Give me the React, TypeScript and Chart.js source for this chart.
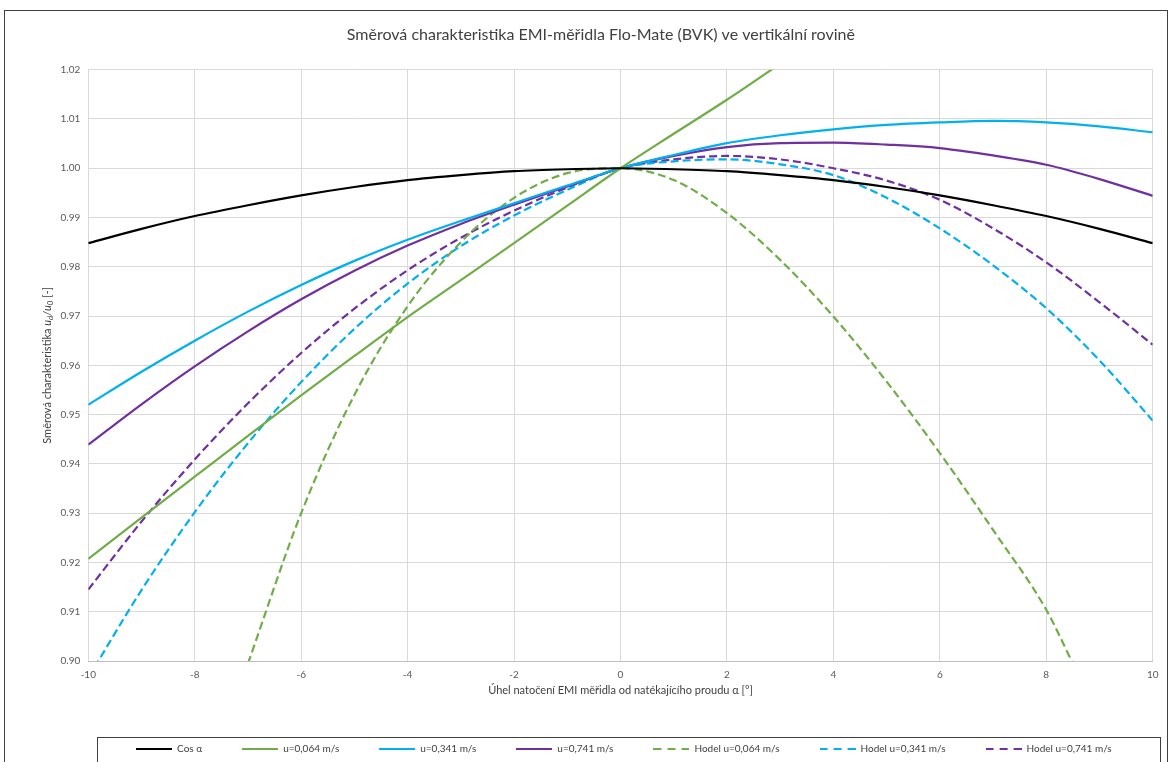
import React, { useEffect, useRef } from 'react';
import { Chart, registerables } from 'chart.js';

Chart.register(...registerables);

const angles = [-10, -9, -8, -7, -6, -5, -4, -3, -2, -1, 0, 1, 2, 3, 4, 5, 6, 7, 8, 9, 10];
const cosAlpha = [0.9848, 0.9877, 0.9903, 0.9925, 0.9945, 0.9962, 0.9976, 0.9986, 0.9994, 0.9998, 1.0, 0.9998, 0.9994, 0.9986, 0.9976, 0.9962, 0.9945, 0.9925, 0.9903, 0.9877, 0.9848];
const u064 = [0.9207, 0.9291, 0.9374, 0.9457, 0.9539, 0.9619, 0.9698, 0.9773, 0.9848, 0.9924, 1.0, 1.007, 1.0139, 1.0212, null, null, null, null, null, null, null];
const u341 = [0.952, 0.9587, 0.965, 0.9709, 0.9763, 0.9812, 0.9855, 0.9893, 0.9929, 0.9965, 1.0, 1.0027, 1.0051, 1.0067, 1.0079, 1.0088, 1.0093, 1.0096, 1.0093, 1.0085, 1.0073];
const u741 = [0.9439, 0.9521, 0.9598, 0.9669, 0.9734, 0.9792, 0.9843, 0.9887, 0.9926, 0.9963, 1.0, 1.0025, 1.0043, 1.0051, 1.0052, 1.0048, 1.0041, 1.0026, 1.0007, 0.9978, 0.9944];
const hodelAngles064 = [-7, -6, -5, -4, -3, -2, -1, 0, 1, 2, 3, 4, 5, 6, 7, 8, 8.5];
const hodel064 = [0.8995, 0.93, 0.954, 0.972, 0.985, 0.994, 0.999, 1.0, 0.9976, 0.9909, 0.9814, 0.9699, 0.9567, 0.9422, 0.9266, 0.9104, 0.8995];
const hodel341 = [0.8966, 0.9144, 0.9302, 0.9442, 0.9566, 0.9674, 0.9766, 0.9842, 0.9904, 0.9956, 1.0, 1.0014, 1.0018, 1.0008, 0.9986, 0.994, 0.9878, 0.9803, 0.9716, 0.961, 0.9488];
const hodel741 = [0.9145, 0.9283, 0.9409, 0.9523, 0.9625, 0.9715, 0.9793, 0.9859, 0.9914, 0.9961, 1.0, 1.0018, 1.0025, 1.0018, 1.0, 0.9975, 0.9936, 0.9878, 0.9809, 0.9728, 0.9642];

const xTicks = [-10, -8, -6, -4, -2, 0, 2, 4, 6, 8, 10];
const yTicks = [0.9, 0.91, 0.92, 0.93, 0.94, 0.95, 0.96, 0.97, 0.98, 0.99, 1.0, 1.01, 1.02];
const seriesLabels = ['Cos α', 'u=0,064 m/s', 'u=0,341 m/s', 'u=0,741 m/s', 'Hodel u=0,064 m/s', 'Hodel u=0,341 m/s', 'Hodel u=0,741 m/s'];

const titleText = 'Směrová charakteristika EMI-měřidla Flo-Mate (BVK) ve vertikální rovině';
const xTitleText = 'Úhel natočení EMI měřidla od natékajícího proudu α [°]';

const FONT = 'Lato';
const GREEN = '#70AD47';
const CYAN = '#00B0F0';
const PURPLE = '#7030A0';
const DASH = [8, 4];

function toPoints(xs: number[], ys: (number | null)[]) {
  const out: { x: number; y: number }[] = [];
  xs.forEach((x, i) => {
    const y = ys[i];
    if (y !== null && y !== undefined) out.push({ x, y });
  });
  return out;
}

function legendSample(color: string, dashed: boolean) {
  const c = document.createElement('canvas');
  c.width = 36;
  c.height = 4;
  const ctx = c.getContext('2d');
  if (ctx) {
    ctx.strokeStyle = color;
    ctx.lineWidth = 2.2;
    ctx.setLineDash(dashed ? [8, 6] : []);
    ctx.beginPath();
    ctx.moveTo(0, 2);
    ctx.lineTo(36, 2);
    ctx.stroke();
  }
  return c;
}

const yTitlePlugin = {
  id: 'yTitleSub',
  afterDraw(chart: any) {
    const ctx = chart.ctx;
    const area = chart.chartArea;
    const cy = (area.top + area.bottom) / 2;
    const big = 11;
    const small = 8;
    const parts = [
      { t: 'Směrová charakteristika ', size: big, italic: false, dy: 0 },
      { t: 'u', size: big, italic: true, dy: 0 },
      { t: 'd', size: small, italic: true, dy: 3 },
      { t: '/', size: big, italic: true, dy: 0 },
      { t: 'u', size: big, italic: true, dy: 0 },
      { t: '0', size: small, italic: true, dy: 3 },
      { t: ' [-]', size: big, italic: false, dy: 0 },
    ];
    ctx.save();
    const fontOf = (p: any) => `${p.italic ? 'italic ' : ''}${p.size}px ${FONT}`;
    let total = 0;
    parts.forEach((p) => {
      ctx.font = fontOf(p);
      total += ctx.measureText(p.t).width;
    });
    ctx.translate(42, cy);
    ctx.rotate(-Math.PI / 2);
    ctx.fillStyle = '#404040';
    ctx.textBaseline = 'middle';
    ctx.textAlign = 'left';
    let x = -total / 2;
    parts.forEach((p) => {
      ctx.font = fontOf(p);
      ctx.fillText(p.t, x, p.dy);
      x += ctx.measureText(p.t).width;
    });
    ctx.restore();
  },
};

const shiftPlugin = {
  id: 'shiftBlocks',
  afterLayout(chart: any) {
    if (chart.legend) {
      chart.legend.left += 45;
      chart.legend.right += 45;
    }
    if (chart.titleBlock) {
      chart.titleBlock.left += 22;
      chart.titleBlock.right += 22;
    }
  },
  afterDraw(chart: any) {
    const ctx = chart.ctx;
    ctx.save();
    ctx.strokeStyle = '#404040';
    ctx.lineWidth = 1;
    ctx.strokeRect(92.5, 726.5, 1063, 25);
    ctx.restore();
  },
};

export default function App() {
  const ref = useRef<HTMLCanvasElement | null>(null);

  useEffect(() => {
    if (!ref.current) return;
    const mk = (label: string, xs: number[], ys: (number | null)[], color: string, dashed: boolean) => ({
      label,
      data: toPoints(xs, ys),
      borderColor: color,
      backgroundColor: color,
      borderWidth: 2.2,
      borderDash: dashed ? DASH : [],
      pointRadius: 0,
      pointHoverRadius: 0,
      pointStyle: legendSample(color, dashed),
      fill: false,
      cubicInterpolationMode: 'monotone',
      spanGaps: false,
    });
    const chart = new Chart(ref.current, {
      type: 'line',
      data: {
        datasets: [
          mk(seriesLabels[0], angles, cosAlpha, '#000000', false),
          mk(seriesLabels[1], angles, u064, GREEN, false),
          mk(seriesLabels[2], angles, u341, CYAN, false),
          mk(seriesLabels[3], angles, u741, PURPLE, false),
          mk(seriesLabels[4], hodelAngles064, hodel064, GREEN, true),
          mk(seriesLabels[5], angles, hodel341, CYAN, true),
          mk(seriesLabels[6], angles, hodel741, PURPLE, true),
        ] as any,
      },
      options: {
        animation: false,
        responsive: false,
        maintainAspectRatio: false,
        layout: { padding: { left: 0, right: 14.3, top: 0, bottom: 5 } },
        plugins: {
          tooltip: { enabled: false },
          title: {
            display: true,
            text: titleText,
            color: '#404040',
            font: { family: FONT, size: 16, weight: 'normal' as any, lineHeight: 1.2 },
            padding: { top: 14.4, bottom: 25.1 },
          },
          legend: {
            display: true,
            position: 'bottom',
            labels: {
              usePointStyle: true,
              pointStyleWidth: 36,
              padding: 40,
              color: '#404040',
              font: { family: FONT, size: 10 },
            },
          },
        },
        scales: {
          x: {
            type: 'linear',
            min: -10,
            max: 10,
            afterBuildTicks: (scale: any) => {
              scale.ticks = xTicks.map((v) => ({ value: v }));
            },
            afterFit: (scale: any) => {
              scale.height = 43;
            },
            ticks: {
              color: '#595959',
              font: { family: FONT, size: 10 },
              padding: 8,
              maxRotation: 0,
              autoSkip: false,
              callback: (v: any) => String(v),
            },
            grid: { color: '#d9d9d9', lineWidth: 1, drawTicks: false },
            border: { display: true, color: '#bfbfbf', width: 1 },
            title: {
              display: true,
              text: xTitleText,
              color: '#404040',
              font: { family: FONT, size: 11 },
              padding: { top: 0, bottom: 7.4 },
            },
          },
          y: {
            type: 'linear',
            min: 0.9,
            max: 1.02,
            afterBuildTicks: (scale: any) => {
              scale.ticks = yTicks.map((v) => ({ value: v }));
            },
            afterFit: (scale: any) => {
              scale.width = 83.3;
            },
            ticks: {
              color: '#595959',
              font: { family: FONT, size: 10 },
              padding: 8,
              autoSkip: false,
              callback: (v: any) => Number(v).toFixed(2),
            },
            grid: { color: '#d9d9d9', lineWidth: 1, drawTicks: false },
            border: { display: false },
          },
        },
      } as any,
      plugins: [yTitlePlugin, shiftPlugin],
    });
    return () => chart.destroy();
  }, []);

  return (
    <div
      style={{
        position: 'absolute',
        left: 4,
        top: 10,
        width: 1164,
        height: 760,
        border: '1px solid #404040',
        boxSizing: 'border-box',
        background: '#ffffff',
      }}
    >
      <canvas ref={ref} width={1162} height={758} style={{ display: 'block' }} />
    </div>
  );
}
